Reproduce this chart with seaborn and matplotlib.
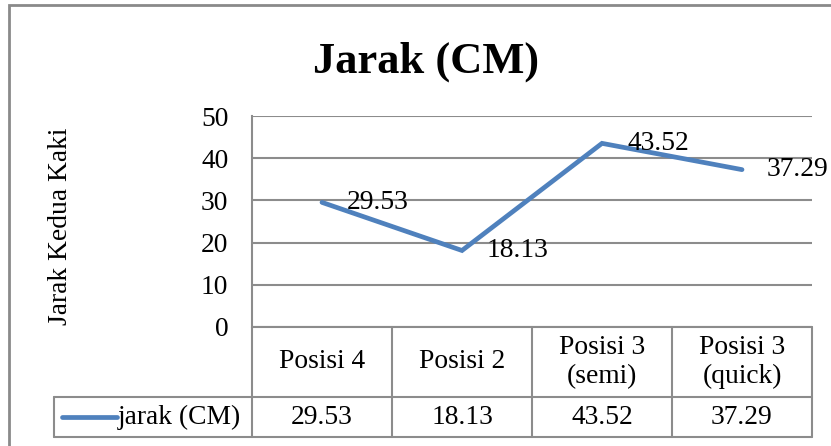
import matplotlib
matplotlib.use("Agg")
import matplotlib.pyplot as plt
import matplotlib.transforms as mtransforms
from matplotlib.patches import Rectangle
import seaborn as sns

categories = ["Posisi 4", "Posisi 2", "Posisi 3\n(semi)", "Posisi 3\n(quick)"]
values = [29.53, 18.13, 43.52, 37.29]
series_name = "jarak (CM)"
title = "Jarak (CM)"
y_label = "Jarak Kedua Kaki"
y_ticks = [0, 10, 20, 30, 40, 50]

sns.set_style("white")
plt.rcParams["font.family"] = ["Liberation Serif", "DejaVu Serif"]
plt.rcParams["text.color"] = "black"
plt.rcParams["ytick.color"] = "black"

W, H = 831, 446
fig = plt.figure(figsize=(W / 100, H / 100), dpi=100)

# plot area in pixels
left, right, top, bottom = 252, 812, 116, 327
ax = fig.add_axes([left / W, 1 - bottom / H, (right - left) / W, (bottom - top) / H])

line_color = "#4F81BD"
grid_color = "#8C8C8C"
fs = 19.8

sns.lineplot(x=list(range(len(values))), y=values, ax=ax, color=line_color,
             linewidth=3.4, solid_capstyle="round", solid_joinstyle="miter")

ax.set_xlim(-0.5, len(values) - 0.5)
ax.set_ylim(0, 50)
ax.set_yticks(y_ticks)
ax.set_yticklabels([str(t) for t in y_ticks], fontsize=fs)
ax.set_xticks([])
ax.tick_params(axis="y", length=0, pad=17)
ax.yaxis.grid(True, color=grid_color, linewidth=1.5)
ax.set_axisbelow(True)
for s in ["top", "right", "bottom"]:
    ax.spines[s].set_visible(False)
ax.spines["left"].set_color(grid_color)
ax.spines["left"].set_linewidth(1.5)
ax.set_xlabel("")
ax.set_ylabel("")

# data labels
for i, v in enumerate(values):
    ax.annotate(f"{v:.2f}", (i, v), xytext=(18, 0), textcoords="offset points",
                ha="left", va="center", fontsize=fs, clip_on=False)

# data table under the plot
tr = mtransforms.blended_transform_factory(ax.transData, ax.transAxes)
ph = bottom - top
y_head = -(397 - bottom) / ph
y_row = -(437 - bottom) / ph
px_per_cat = (right - left) / len(values)
x_leg = -0.5 - (left - 54) / px_per_cat
n = len(values)
lkw = dict(color=grid_color, linewidth=1.5, transform=tr, clip_on=False)
for k in range(n + 1):
    ax.plot([k - 0.5, k - 0.5], [0, y_row], **lkw)
ax.plot([-0.5, n - 0.5], [0, 0], **lkw)
ax.plot([x_leg, n - 0.5], [y_head, y_head], **lkw)
ax.plot([x_leg, n - 0.5], [y_row, y_row], **lkw)
ax.plot([x_leg, x_leg], [y_head, y_row], **lkw)

for i, (c, v) in enumerate(zip(categories, values)):
    ax.text(i, y_head / 2, c, transform=tr, ha="center", va="center",
            fontsize=fs, linespacing=1.2)
    ax.text(i, (y_head + y_row) / 2, f"{v:.2f}", transform=tr, ha="center",
            va="center", fontsize=fs)

# legend key in the table
y_mid = (y_head + y_row) / 2
x_k0 = -0.5 - (left - 62) / px_per_cat
x_k1 = -0.5 - (left - 117) / px_per_cat
ax.plot([x_k0, x_k1], [y_mid, y_mid], color=line_color, linewidth=3.4,
        solid_capstyle="round", transform=tr, clip_on=False)
ax.text(x_k1 + 0.005, y_mid, series_name, transform=tr, ha="left", va="center",
        fontsize=fs)

# title and y label
fig.text(426 / W, 1 - 62 / H, title, ha="center", va="center",
         fontsize=32, fontweight="bold")
fig.text(61 / W, 1 - 226 / H, y_label, ha="center", va="center",
         rotation=90, fontsize=fs)

# chart frame
fig.patches.append(Rectangle((9 / W, -0.1), 1.2, 1 - 5 / H + 0.1,
                             transform=fig.transFigure, fill=False,
                             edgecolor="#8A8A8A", linewidth=2))

fig.savefig("out.png", dpi=100)
